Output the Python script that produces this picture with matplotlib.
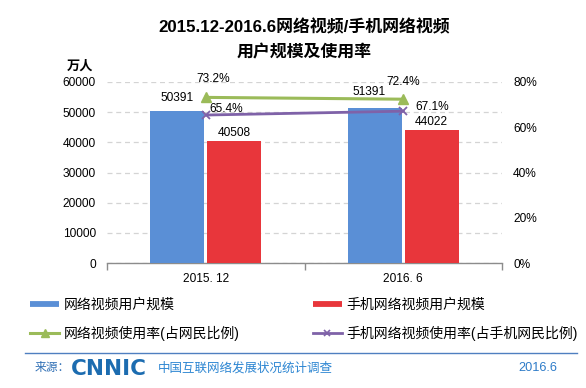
import matplotlib
matplotlib.use("Agg")
import matplotlib.pyplot as plt
from matplotlib.lines import Line2D
from matplotlib.ticker import FuncFormatter, FixedLocator

plt.rcParams['font.family'] = ['Liberation Sans', 'Noto Sans CJK SC', 'DejaVu Sans']

# ---- data ----
categories = ['2015. 12', '2016. 6']
video_users = [50391, 51391]          # 网络视频用户规模 (万人)
mobile_video_users = [40508, 44022]   # 手机网络视频用户规模 (万人)
video_rate = [73.2, 72.4]             # 网络视频使用率 (%)
mobile_video_rate = [65.4, 67.1]      # 手机网络视频使用率 (%)
left_ticks = [0, 10000, 20000, 30000, 40000, 50000, 60000]
right_ticks = [0, 20, 40, 60, 80]

series_names = ['网络视频用户规模', '手机网络视频用户规模',
                '网络视频使用率(占网民比例)', '手机网络视频使用率(占手机网民比例)']

C_BLUE = '#5a8fd6'
C_RED = '#e8363b'
C_GREEN = '#9bbb59'
C_PURPLE = '#7f62a8'

W, H = 586, 388
fig = plt.figure(figsize=(W / 100, H / 100), dpi=100)
fig.patch.set_facecolor('white')

ax_l, ax_r, ax_b, ax_t = 107, 502, 263, 82
ax = fig.add_axes([ax_l / W, 1 - ax_b / H, (ax_r - ax_l) / W, (ax_b - ax_t) / H])
ax.patch.set_alpha(0)
ax2 = ax.twinx()
ax2.patch.set_alpha(0)

xs = list(range(len(categories)))
bw = 0.274
off = 0.144
b1 = ax.bar([x - off for x in xs], video_users, width=bw, color=C_BLUE, zorder=3)
b2 = ax.bar([x + off for x in xs], mobile_video_users, width=bw, color=C_RED, zorder=3)

ax.set_xlim(-0.5, len(categories) - 0.5)
ax.set_ylim(left_ticks[0], left_ticks[-1])
ax.set_yticks(left_ticks)
ax.yaxis.grid(True, color='#d4d4d4', linestyle=(0, (4, 3)), linewidth=0.9)
ax.set_axisbelow(True)
for s in ['top', 'right', 'left']:
    ax.spines[s].set_visible(False)
    ax2.spines[s].set_visible(False)
ax2.spines['bottom'].set_visible(False)
ax.spines['bottom'].set_color('#8c8c8c')
ax.spines['bottom'].set_linewidth(1.0)
ax.set_xticks(xs)
ax.set_xticklabels(categories, fontsize=8.6)
ax.tick_params(axis='x', length=0, pad=7)
ax.xaxis.set_minor_locator(FixedLocator([-0.5 + i for i in range(len(categories) + 1)]))
ax.tick_params(axis='x', which='minor', length=5, color='#8c8c8c', width=1)
ax.tick_params(axis='y', length=0, labelsize=8.6, pad=8)

l1, = ax2.plot(xs, video_rate, color=C_GREEN, lw=2.2, marker='^', ms=7, zorder=4)
l2, = ax2.plot(xs, mobile_video_rate, color=C_PURPLE, lw=2.0, marker='x', ms=6,
               mew=1.3, zorder=4)
ax2.set_ylim(right_ticks[0], right_ticks[-1])
ax2.set_yticks(right_ticks)
ax2.yaxis.set_major_formatter(FuncFormatter(lambda v, p: f'{v:.0f}%'))
ax2.tick_params(axis='y', length=0, labelsize=8.6, pad=8)

# data labels
bar_offsets_1 = [(0, 13), (-6, 16)]
bar_offsets_2 = [(0, 8), (0, 8)]
for i, x in enumerate(xs):
    ax.annotate(f'{video_users[i]}', (x - off, video_users[i]),
                xytext=bar_offsets_1[i], textcoords='offset pixels',
                ha='center', va='center', fontsize=8.6)
    ax.annotate(f'{mobile_video_users[i]}', (x + off, mobile_video_users[i]),
                xytext=bar_offsets_2[i], textcoords='offset pixels',
                ha='center', va='center', fontsize=8.6)
rate_offsets_1 = [(7, 18), (0, 17)]
rate_offsets_2 = [(20, 6), (29, 4)]
for i, x in enumerate(xs):
    ax2.annotate(f'{video_rate[i]:.1f}%', (x, video_rate[i]),
                 xytext=rate_offsets_1[i], textcoords='offset pixels',
                 ha='center', va='center', fontsize=8.6)
    ax2.annotate(f'{mobile_video_rate[i]:.1f}%', (x, mobile_video_rate[i]),
                 xytext=rate_offsets_2[i], textcoords='offset pixels',
                 ha='center', va='center', fontsize=8.6)

# unit label
fig.text(80 / W, 1 - 66 / H, '万人', fontsize=9.5, fontweight='bold',
         ha='center', va='center')

# title
fig.text(304 / W, 1 - 27 / H, '2015.12-2016.6网络视频/手机网络视频',
         fontsize=12.2, fontweight='bold', ha='center', va='center')
fig.text(304 / W, 1 - 52 / H, '用户规模及使用率',
         fontsize=12.2, fontweight='bold', ha='center', va='center')

# legend
h_blue = Line2D([], [], color=C_BLUE, lw=4.2, solid_capstyle='butt')
h_red = Line2D([], [], color=C_RED, lw=4.2, solid_capstyle='butt')
h_green = Line2D([], [], color=C_GREEN, lw=2.2, marker='^', ms=6)
h_purple = Line2D([], [], color=C_PURPLE, lw=2.0, marker='x', ms=5, mew=1.2)
leg = fig.legend([h_blue, h_green, h_red, h_purple],
                 [series_names[0], series_names[2], series_names[1], series_names[3]],
                 ncol=2, loc='upper left', bbox_to_anchor=(30 / W, 1 - 298 / H),
                 frameon=False, fontsize=10, handlelength=2.1, handletextpad=0.3,
                 columnspacing=5.3, labelspacing=1.0, borderpad=0, borderaxespad=0)

# footer
fig.add_artist(Line2D([25 / W, 577 / W], [1 - 353 / H, 1 - 353 / H],
                      color='#4f7fc0', lw=1.0, transform=fig.transFigure))
fig.text(35 / W, 1 - 368 / H, '来源：', fontsize=8.5, color='#2f6fb5',
         ha='left', va='center')
fig.text(71 / W, 1 - 369 / H, 'CNNIC', fontsize=15.5, fontweight='bold',
         color='#1c6cb0', ha='left', va='center', family='DejaVu Sans')
fig.text(158 / W, 1 - 368 / H, '中国互联网络发展状况统计调查', fontsize=9,
         color='#2d86d2', ha='left', va='center')
fig.text(557 / W, 1 - 368 / H, '2016.6', fontsize=9.2, color='#2d7bc8',
         ha='right', va='center')

fig.savefig('out.png', dpi=100, facecolor='white')
